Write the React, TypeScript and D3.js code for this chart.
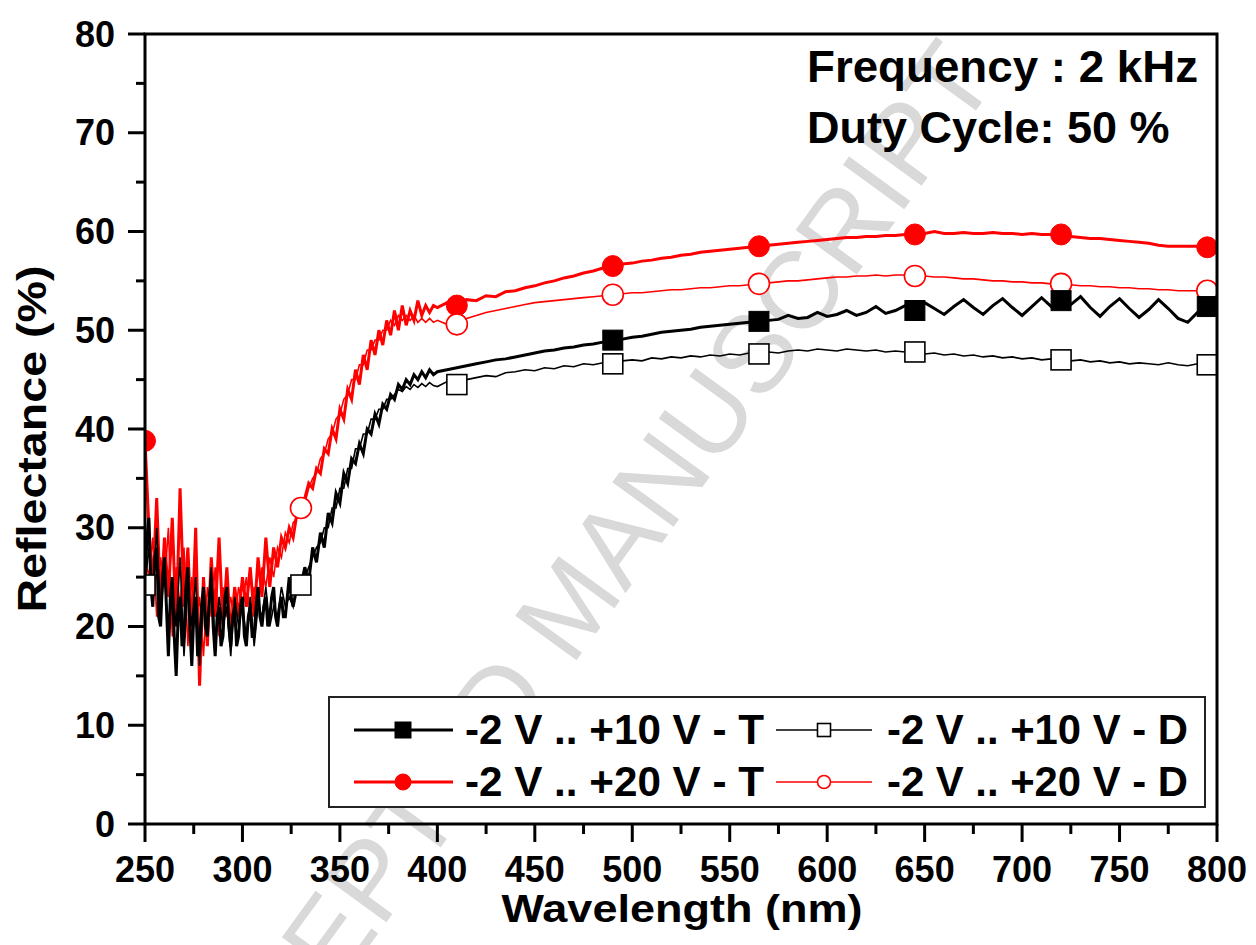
import React from "react";
import * as d3 from "d3";

// ---------- data ----------
const wlDense = d3.range(250, 330, 1); // 250..329 (1 nm)
const wlNoisy = d3.range(250, 400, 2); // 250..398
const wlMid = d3.range(330, 400, 2); // 330..398
const wlSmooth = d3.range(400, 801, 5); // 400..800

const blackT_dense = [24.5, 29, 31, 24, 22, 27, 28, 21, 20, 25, 27, 22, 17, 23, 25, 19, 15, 21, 23, 18, 19, 24, 26, 20, 16, 21, 23, 17, 18, 22, 24, 20, 19, 23, 25, 20, 17, 21, 22, 18, 19, 23, 24, 20, 18, 21, 22, 18, 19, 22, 23, 19, 18, 21, 22, 19, 19, 22, 24, 21, 20, 22, 23, 20, 21, 23, 24, 21, 20, 22, 23, 21, 21, 23, 25, 23, 22, 23, 24.5, 24];
const blackT_mid = [24.2, 26, 24.5, 28, 26.5, 29.5, 28, 31.5, 30.5, 33.5, 32.5, 35.5, 34.5, 37, 36.5, 38.5, 37.5, 40, 39.5, 41.5, 40.5, 42.5, 42, 43.5, 43, 44.5, 44, 45, 44.5, 45.5, 45, 45.8, 45.2, 46, 45.5];
const blackT_smooth = [45.8, 46.0, 46.2, 46.4, 46.6, 46.8, 47.0, 47.1, 47.3, 47.5, 47.7, 47.9, 48.0, 48.2, 48.3, 48.5, 48.6, 48.8, 49.0, 49.1, 49.3, 49.4, 49.6, 49.8, 49.9, 50.0, 50.1, 50.3, 50.4, 50.5, 50.6, 50.7, 50.8, 50.9, 51.0, 51.1, 51.5, 51.2, 51.3, 51.8, 51.4, 51.6, 52.0, 51.5, 51.8, 52.4, 51.7, 52.0, 52.5, 52.0, 52.8, 52.2, 51.6, 52.4, 53.1, 52.3, 51.6, 52.5, 53.2, 52.3, 51.5, 52.4, 53.3, 52.4, 53.0, 52.6, 53.4, 52.3, 51.4, 52.4, 53.2, 52.2, 51.3, 52.1, 53.1, 52.2, 51.2, 50.8, 51.8, 52.4, 52.3];

const blackD_noisy = [24.2, 28, 23, 30, 21, 26, 18, 24, 20, 27, 17, 24, 20, 25, 16, 23, 20, 26, 18, 23, 20, 22, 17, 23, 20, 22, 19, 23, 18, 22, 21, 24, 20, 22, 21, 24, 22, 23, 22, 25, 24.2, 25, 26, 27, 28, 28.5, 30, 30, 32, 32, 34, 34, 36, 36, 38, 38, 39.5, 39.5, 41, 41, 42, 42, 43, 43, 43.5, 44, 43.8, 44.3, 44, 44.5, 44.2, 44.6, 44.3, 44.7, 44.4];
const blackD_smooth = [44.3, 44.8, 44.5, 45.0, 45.2, 45.4, 45.3, 45.7, 45.8, 46.0, 45.9, 46.2, 46.1, 46.4, 46.3, 46.6, 46.5, 46.7, 46.6, 46.9, 47.0, 46.9, 47.2, 47.1, 47.3, 47.2, 47.4, 47.3, 47.5, 47.4, 47.6, 47.5, 47.7, 47.6, 47.8, 47.7, 47.9, 48.0, 47.9, 48.1, 48.0, 47.9, 48.1, 48.0, 47.9, 48.0, 47.8, 47.9, 47.8, 47.8, 47.6, 47.7, 47.5, 47.6, 47.4, 47.5, 47.3, 47.4, 47.2, 47.3, 47.1, 47.2, 47.0, 47.1, 47.0, 46.9, 47.0, 46.8, 46.9, 46.7, 46.8, 46.6, 46.7, 46.6, 46.5, 46.7, 46.5, 46.4, 46.6, 46.5, 46.5];

const redT_noisy = [38.8, 30, 24, 33, 22, 29, 23, 31, 20, 34, 22, 28, 19, 30, 14, 25, 18, 27, 21, 29, 20, 26, 19, 24, 21, 25, 22, 26, 21, 27, 23, 29, 24, 28, 26, 29, 28, 30, 29, 31.5, 32, 33, 34.5, 34, 36, 35.5, 38, 37.5, 40, 39, 42, 41, 44, 43, 46, 44.5, 47.5, 46, 49, 47.5, 50, 48.5, 51, 49.5, 52, 50, 52.5, 50.5, 52, 51, 53, 51.5, 52.5, 51.8, 52.5];
const redT_smooth = [52.3, 52.8, 52.5, 53.1, 53.0, 53.5, 53.4, 53.9, 54.0, 54.3, 54.5, 54.8, 55.0, 55.3, 55.5, 55.8, 56.0, 56.3, 56.5, 56.7, 56.8, 57.0, 57.1, 57.3, 57.4, 57.6, 57.7, 57.9, 58.0, 58.1, 58.2, 58.3, 58.4, 58.5, 58.6, 58.7, 58.8, 58.9, 59.0, 59.1, 59.2, 59.3, 59.4, 59.4, 59.5, 59.5, 59.6, 59.6, 59.7, 59.7, 59.8, 60.0, 59.8, 59.8, 59.9, 59.8, 59.8, 59.9, 59.8, 59.8, 59.7, 59.8, 59.7, 59.7, 59.7, 59.5, 59.4, 59.3, 59.3, 59.2, 59.1, 59.0, 58.9, 58.8, 58.6, 58.5, 58.5, 58.5, 58.5, 58.4, 58.4];

const redD_noisy = [27, 25, 29, 21, 27, 24, 30, 19, 26, 22, 28, 18, 25, 20, 23, 17, 24, 21, 26, 19, 24, 21, 23, 20, 24, 22, 25, 21, 24, 22, 26, 24, 27, 25, 28, 27, 29.5, 28.5, 30.5, 31, 32, 32.5, 34, 35, 35.5, 37, 37.5, 39, 39.5, 41, 41.5, 43, 43.5, 45, 45, 46.5, 46.5, 48, 48, 49, 49, 50, 50, 51, 50.5, 51.5, 51, 51.5, 51, 51.5, 50.8, 51.2, 50.8, 51.2, 50.8];
const redD_smooth = [51.0, 50.6, 50.6, 51.2, 51.5, 51.8, 52.0, 52.2, 52.4, 52.6, 52.8, 52.9, 53.0, 53.1, 53.2, 53.3, 53.4, 53.5, 53.6, 53.7, 53.8, 53.8, 53.9, 54.0, 54.1, 54.1, 54.2, 54.3, 54.3, 54.4, 54.5, 54.5, 54.6, 54.7, 54.8, 54.9, 55.0, 55.0, 55.1, 55.2, 55.3, 55.4, 55.4, 55.5, 55.5, 55.6, 55.5, 55.6, 55.6, 55.5, 55.5, 55.4, 55.4, 55.3, 55.2, 55.2, 55.1, 55.0, 55.0, 54.9, 54.9, 54.8, 54.8, 54.7, 54.7, 54.6, 54.5, 54.5, 54.4, 54.4, 54.3, 54.3, 54.2, 54.2, 54.1, 54.1, 54.0, 54.0, 54.0, 54.0, 54.0];

const markBlackT = [488, 566, 643, 720, 796];
const markBlackD = [250, 330, 410, 488, 566, 643, 720, 796];
const markRedT = [250, 410, 488, 566, 643, 720, 796];
const markRedD = [330, 410, 488, 566, 643, 720, 796];

const legendLabels = [
  "-2 V .. +10 V - T",
  "-2 V .. +10 V - D",
  "-2 V .. +20 V - T",
  "-2 V .. +20 V - D",
];
const xTicks = [250, 300, 350, 400, 450, 500, 550, 600, 650, 700, 750, 800];
const yTicks = [0, 10, 20, 30, 40, 50, 60, 70, 80];
const infoLines = ["Frequency : 2 kHz", "Duty Cycle: 50 %"];
const xTitle = "Wavelength (nm)";
const yTitle = "Reflectance (%)";
const watermark = "ACCEPTED MANUSCRIPT";

// ---------- layout ----------
const W = 1256, H = 945;
const L = 145, R = 1217, T = 34, B = 824;
const FONT = "'Liberation Sans', Arial, Helvetica, sans-serif";

type Pt = [number, number];
function build(...segs: [number[], number[]][]): Pt[] {
  const a: Pt[] = [];
  for (const [grid, vals] of segs) {
    const n = Math.min(grid.length, vals.length);
    for (let i = 0; i < n; i++) a.push([grid[i], vals[i]]);
  }
  return a;
}
function nearest(data: Pt[], w: number): Pt {
  let best = data[0];
  for (const p of data) if (Math.abs(p[0] - w) < Math.abs(best[0] - w)) best = p;
  return best;
}

const series = [
  { data: build([wlDense, blackT_dense], [wlMid, blackT_mid], [wlSmooth, blackT_smooth]), color: "#000", width: 3, marks: markBlackT, shape: "square", filled: true },
  { data: build([wlNoisy, blackD_noisy], [wlSmooth, blackD_smooth]), color: "#000", width: 1.6, marks: markBlackD, shape: "square", filled: false },
  { data: build([wlNoisy, redT_noisy], [wlSmooth, redT_smooth]), color: "#ff0000", width: 3, marks: markRedT, shape: "circle", filled: true },
  { data: build([wlNoisy, redD_noisy], [wlSmooth, redD_smooth]), color: "#ff0000", width: 1.6, marks: markRedD, shape: "circle", filled: false },
];
const drawOrder = [2, 3, 0, 1];

function Marker({ x, y, shape, filled, color, size }: any) {
  const fill = filled ? color : "#fff";
  const sw = filled ? 1 : 1.6;
  if (shape === "square")
    return <rect x={x - size / 2} y={y - size / 2} width={size} height={size} fill={fill} stroke={color} strokeWidth={sw} />;
  return <circle cx={x} cy={y} r={size / 2} fill={fill} stroke={color} strokeWidth={sw} />;
}

export default function App() {
  const x = d3.scaleLinear().domain([250, 800]).range([L, R]);
  const y = d3.scaleLinear().domain([0, 80]).range([B, T]);
  const line = d3.line<Pt>().x((d) => x(d[0])).y((d) => y(d[1]));

  const xMinor = d3.range(275, 800, 50);
  const yMinor = d3.range(5, 80, 10);

  const legendRows = [730, 782];
  const legendCols = [
    { x1: 354, x2: 453, mx: 403, tx: 465, tl: 299 },
    { x1: 776, x2: 872, mx: 824, tx: 887, tl: 301 },
  ];

  return (
    <svg width={W} height={H} style={{ position: "absolute", left: 0, top: 0, display: "block" }} fontFamily={FONT}>
      <rect width={W} height={H} fill="#fff" />
      <defs>
        <clipPath id="plot">
          <rect x={L} y={T} width={R - L} height={B - T} />
        </clipPath>
      </defs>

      {/* watermark */}
      <text transform="translate(600,628) rotate(-54)" textAnchor="middle" fontSize={110} fill="#d9d9d9">
        {watermark}
      </text>

      {/* data */}
      <g clipPath="url(#plot)">
        {drawOrder.map((i) => {
          const s = series[i];
          return (
            <g key={i}>
              <path d={line(s.data) || ""} fill="none" stroke={s.color} strokeWidth={s.width} strokeLinejoin="miter" />
              {s.marks.map((w, j) => {
                const p = nearest(s.data, w);
                return (
                  <Marker key={j} x={x(p[0])} y={y(p[1])} shape={s.shape} filled={s.filled} color={s.color} size={s.shape === "square" ? 20 : 21} />
                );
              })}
            </g>
          );
        })}
      </g>

      {/* frame */}
      <rect x={L} y={T} width={R - L} height={B - T} fill="none" stroke="#000" strokeWidth={3} />

      {/* y axis ticks */}
      {yTicks.map((t) => (
        <g key={"y" + t}>
          <line x1={L - 17} x2={L} y1={y(t)} y2={y(t)} stroke="#000" strokeWidth={3} />
          <text x={115} y={y(t) + 12.5} textAnchor="end" fontSize={36} fontWeight="bold">
            {t}
          </text>
        </g>
      ))}
      {yMinor.map((t) => (
        <line key={"ym" + t} x1={L - 9} x2={L} y1={y(t)} y2={y(t)} stroke="#000" strokeWidth={3} />
      ))}

      {/* x axis ticks */}
      {xTicks.map((t) => (
        <g key={"x" + t}>
          <line x1={x(t)} x2={x(t)} y1={B} y2={B + 18} stroke="#000" strokeWidth={3} />
          <text x={x(t)} y={882} textAnchor="middle" fontSize={36} fontWeight="bold">
            {t}
          </text>
        </g>
      ))}
      {xMinor.map((t) => (
        <line key={"xm" + t} x1={x(t)} x2={x(t)} y1={B} y2={B + 10} stroke="#000" strokeWidth={3} />
      ))}

      {/* axis titles */}
      <text x={682} y={922} textAnchor="middle" fontSize={39} fontWeight="bold" textLength={361} lengthAdjust="spacingAndGlyphs">
        {xTitle}
      </text>
      <text transform="translate(46,439) rotate(-90)" textAnchor="middle" fontSize={41} fontWeight="bold" textLength={347} lengthAdjust="spacingAndGlyphs">
        {yTitle}
      </text>

      {/* info text */}
      <text x={807} y={82} fontSize={45} fontWeight="bold" textLength={391} lengthAdjust="spacingAndGlyphs">
        {infoLines[0]}
      </text>
      <text x={807} y={143} fontSize={45} fontWeight="bold">
        {infoLines[1]}
      </text>

      {/* legend */}
      <rect x={329} y={697} width={876} height={110} fill="#fff" stroke="#222" strokeWidth={2} />
      {series.map((s, i) => {
        const row = legendRows[Math.floor(i / 2)];
        const col = legendCols[i % 2];
        return (
          <g key={"lg" + i}>
            <line x1={col.x1} x2={col.x2} y1={row} y2={row} stroke={s.color} strokeWidth={s.width} />
            <Marker x={col.mx} y={row} shape={s.shape} filled={s.filled} color={s.color} size={s.filled ? 16 : 13} />
            <text x={col.tx} y={row + 14} fontSize={42} fontWeight="bold" textLength={col.tl} lengthAdjust="spacingAndGlyphs">
              {legendLabels[i]}
            </text>
          </g>
        );
      })}
    </svg>
  );
}
